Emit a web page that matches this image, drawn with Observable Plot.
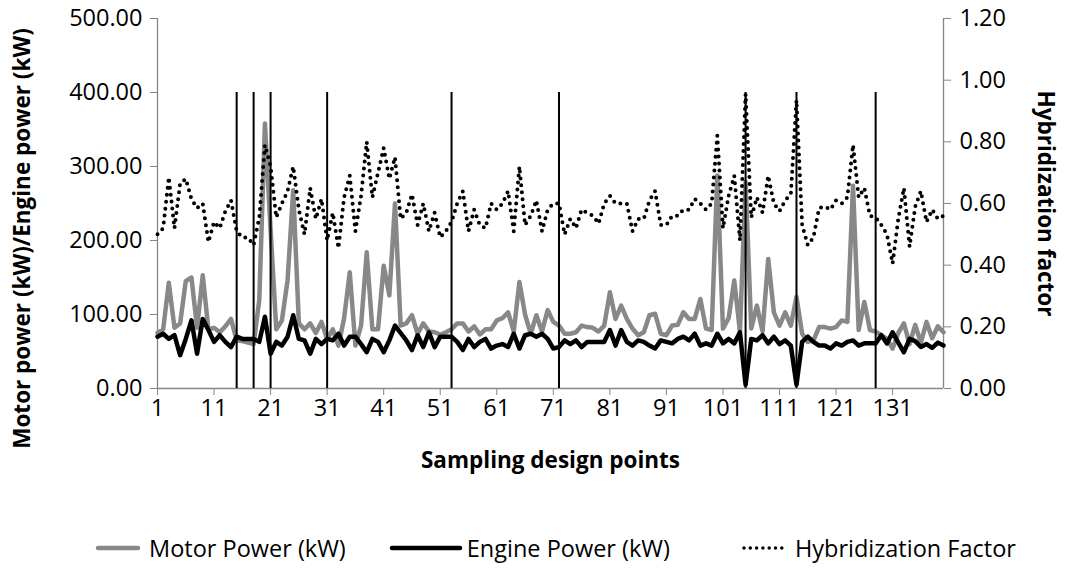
<!DOCTYPE html>
<html>
<head>
<meta charset="utf-8">
<script src="https://cdn.jsdelivr.net/npm/d3@7"></script>
<script src="https://cdn.jsdelivr.net/npm/@observablehq/plot@0.6"></script>
<style>
  html, body { margin: 0; padding: 0; background: #fff; }
  body { width: 1068px; height: 571px; overflow: hidden; font-family: "Open Sans", sans-serif; }
  #legend { display: flex; justify-content: flex-start; align-items: center; height: 30px; margin-top: 33px; padding-left: 95px; font-size: 23.5px; color: #000; white-space: nowrap; }
  .item { display: flex; align-items: center; }
  .item svg { display: block; }
</style>
</head>
<body>
<div id="chart"></div>
<div id="legend"></div>
<script>
// ---- data ----
const motorPower = [75,80,143,82,88,145,150,82,153,80, 82,76,84,94,65,64,62,60,120,358,
  215,80,92,146,268,88,80,88,75,90, 67,80,58,95,157,58,85,184,80,80,
  166,126,250,85,88,99,74,88,77,76, 73,76,80,88,88,77,84,73,80,80,
  92,95,103,77,144,100,74,99,77,106, 90,85,74,74,76,85,83,82,77,85,
  130,94,112,94,81,72,76,99,101,74, 72,85,86,103,94,94,121,81,79,288,
  81,95,146,77,279,81,112,77,175,103, 85,103,85,124,74,63,65,83,83,81,
  83,92,90,274,79,117,79,77,72,67, 54,75,88,60,86,62,90,68,84,76];
const enginePower = [70,74,67,72,45,67,92,47,94,79, 63,72,63,56,70,67,67,67,63,97,
  47,63,58,70,99,67,65,47,67,60, 67,65,74,58,70,70,60,49,67,63,
  49,65,85,75,65,52,72,56,76,56, 70,70,70,63,52,67,56,63,67,54,
  58,60,56,74,54,72,74,70,74,67, 54,56,65,60,65,56,63,63,63,63,
  79,58,79,63,58,65,63,58,54,65, 63,61,67,70,65,74,58,61,58,74,
  61,67,61,76,5,67,65,72,61,70, 60,65,58,5,63,70,63,58,58,54,
  61,58,63,65,58,61,61,61,72,61, 76,62,49,67,64,56,60,55,62,58];
const hybridizationFactor = [0.50,0.52,0.685,0.52,0.665,0.68,0.615,0.585,0.60,0.475,
  0.54,0.52,0.575,0.61,0.51,0.49,0.49,0.465,0.555,0.79,
  0.72,0.555,0.60,0.64,0.72,0.58,0.50,0.65,0.55,0.615,
  0.48,0.57,0.455,0.62,0.69,0.51,0.625,0.80,0.62,0.70,
  0.78,0.68,0.75,0.55,0.57,0.63,0.53,0.60,0.51,0.57,
  0.49,0.51,0.54,0.60,0.64,0.51,0.58,0.53,0.52,0.60,
  0.58,0.60,0.64,0.51,0.72,0.53,0.56,0.61,0.51,0.58,
  0.60,0.60,0.50,0.55,0.52,0.58,0.57,0.56,0.535,0.60,
  0.625,0.60,0.60,0.60,0.51,0.55,0.55,0.61,0.64,0.53,
  0.53,0.56,0.56,0.58,0.58,0.615,0.60,0.58,0.60,0.82,
  0.52,0.625,0.69,0.48,0.955,0.555,0.62,0.57,0.69,0.60,
  0.575,0.61,0.63,0.935,0.53,0.465,0.49,0.585,0.59,0.58,
  0.61,0.60,0.62,0.79,0.62,0.65,0.56,0.555,0.53,0.50,
  0.405,0.55,0.65,0.46,0.59,0.64,0.54,0.58,0.55,0.56];
const markerPoints = [15, 18, 21, 31, 53, 72, 105, 114, 128];
const markerValue = 400;
const xTickLabels = [1, 11, 21, 31, 41, 51, 61, 71, 81, 91, 101, 111, 121, 131];
const leftTicks = [0, 100, 200, 300, 400, 500];
const rightTicks = [0, 0.2, 0.4, 0.6, 0.8, 1.0, 1.2];
const seriesNames = ["Motor Power (kW)", "Engine Power (kW)", "Hybridization Factor"];
const titles = {left: "Motor power (kW)/Engine power (kW)", right: "Hybridization factor", x: "Sampling design points"};

// ---- build ----
const leftMax = 500, rightMax = 1.2, k = leftMax / rightMax;
const rows = motorPower.map((m, i) => ({pt: i + 1, motor: m, engine: enginePower[i], hf: hybridizationFactor[i]}));
const grey = "#888888", axisGrey = "#868686";
const H = 500;

const chart = Plot.plot({
  width: 1068, height: H,
  marginLeft: 157, marginRight: 125, marginTop: 18, marginBottom: H - 388,
  style: {fontFamily: "'Open Sans', sans-serif", fontSize: "23.5px", color: "#000", background: "#fff", overflow: "visible"},
  x: {type: "linear", domain: [1, rows.length]},
  y: {domain: [0, leftMax]},
  marks: [
    Plot.ruleX([1, rows.length], {stroke: axisGrey, strokeWidth: 1.3}),
    Plot.ruleY([0], {stroke: axisGrey, strokeWidth: 1.3}),
    Plot.axisX({ticks: xTickLabels, tickSize: 7, tickPadding: 4, stroke: axisGrey, fill: "#000", label: null, tickFormat: d => String(d)}),
    Plot.axisY({ticks: leftTicks, anchor: "left", tickSize: 7, tickPadding: 8, stroke: axisGrey, fill: "#000", label: null, tickFormat: d => d.toFixed(2)}),
    Plot.axisY({ticks: rightTicks.map(v => v * k), anchor: "right", tickSize: 7, tickPadding: 9, stroke: axisGrey, fill: "#000", label: null, tickFormat: d => (d / k).toFixed(2)}),
    Plot.lineY(rows, {x: "pt", y: "motor", stroke: grey, strokeWidth: 4.5, strokeLinejoin: "round"}),
    Plot.lineY(rows, {x: "pt", y: "engine", stroke: "#000", strokeWidth: 4.5, strokeLinejoin: "round"}),
    Plot.lineY(rows, {x: "pt", y: d => d.hf * k, stroke: "#000", strokeWidth: 4, strokeDasharray: "0 7", strokeLinecap: "round"}),
    Plot.ruleX(markerPoints, {y1: 0, y2: markerValue, stroke: "#000", strokeWidth: 2}),
    Plot.text([titles.left], {frameAnchor: "left", textAnchor: "middle", lineAnchor: "middle", rotate: -90, dx: -135, dy: 35, fontWeight: "bold", fontSize: 22.5}),
    Plot.text([titles.right], {frameAnchor: "right", textAnchor: "middle", lineAnchor: "middle", rotate: 90, dx: 102, dy: 0, fontWeight: "bold", fontSize: 22.5}),
    Plot.text([titles.x], {frameAnchor: "bottom", textAnchor: "middle", lineAnchor: "middle", dy: 72, fontWeight: "bold", fontSize: 22.5})
  ]
});
document.getElementById("chart").appendChild(chart);

// ---- legend ----
const legend = document.getElementById("legend");
const swatches = [
  {w: 46, stroke: grey, width: 4.5, dash: null, gapAfterSwatch: 8, gapAfterText: 43},
  {w: 74, stroke: "#000", width: 4.5, dash: null, gapAfterSwatch: 4, gapAfterText: 71},
  {w: 46, stroke: "#000", width: 3.5, dash: "0 6.3", gapAfterSwatch: 8, gapAfterText: 0}
];
seriesNames.forEach((name, i) => {
  const s = swatches[i];
  const item = document.createElement("div");
  item.className = "item";
  item.style.marginRight = s.gapAfterText + "px";
  item.innerHTML = `<svg width="${s.w}" height="10" style="margin-right:${s.gapAfterSwatch}px"><line x1="3" x2="${s.w - 3}" y1="5" y2="5" stroke="${s.stroke}" stroke-width="${s.width}" stroke-linecap="round" ${s.dash ? `stroke-dasharray="${s.dash}"` : ""}/></svg><span>${name}</span>`;
  legend.appendChild(item);
});
</script>
</body>
</html>
